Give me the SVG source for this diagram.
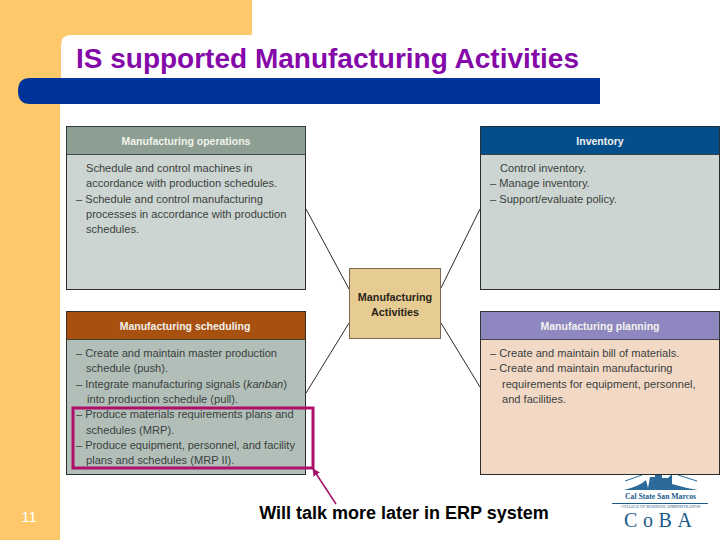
<svg xmlns="http://www.w3.org/2000/svg" width="720" height="540" viewBox="0 0 720 540">
<style>
text{font-family:"Liberation Sans",Arial,sans-serif}
.box{stroke:#2a2f2e;stroke-width:1}
.hd{stroke:#2a2f2e;stroke-width:.8}
.ht{font-size:10.5px;font-weight:bold;fill:#f2f2ec;text-anchor:middle}
.bt{font-size:11.1px;fill:#3a3f3d}
.conn{stroke:#2a2a2a;stroke-width:1;fill:none}
</style>
<defs>
<marker id="ah" viewBox="0 0 10 10" refX="9" refY="5" markerWidth="5" markerHeight="5" orient="auto-start-reverse"><path d="M0 0L10 5L0 10z" fill="#a5106a"/></marker>
</defs>
<rect width="720" height="540" fill="#fff"/>
<g id="background">
<path d="M0 0H252V35H70Q61 35 61 46V104H60V540H0z" fill="#fdc869"/>
<path d="M60 78H600V104H30Q18 104 18 91Q18 78 30 78z" fill="#003399"/>
</g>
<text x="76" y="68" font-size="28" font-weight="bold" fill="#8409a8">IS supported Manufacturing Activities</text>
<g id="connectors">
<line class="conn" x1="306" y1="209" x2="349" y2="289"/>
<line class="conn" x1="480" y1="209" x2="441" y2="288"/>
<line class="conn" x1="306" y1="393" x2="349" y2="323"/>
<line class="conn" x1="480" y1="387" x2="441" y2="323"/>
</g>
<g id="logo">
<path d="M624 490Q640 486 646 480L648 488L650 477H655V472H662V478H668L672 474V484Q685 488 698 490z" fill="#2b6a9a"/>
<path d="M625 481L642 475M678 475L697 481" stroke="#2b6a9a" stroke-width="1" fill="none"/>
<text x="660.500" y="499" font-size="7.700" font-weight="bold" fill="#1a5b8c" text-anchor="middle" style="font-family:'Liberation Serif',serif">Cal State San Marcos</text>
<line x1="612" y1="503.500" x2="708" y2="503.500" stroke="#1a5b8c"/>
<text x="660.500" y="508" font-size="4" fill="#1a5b8c" text-anchor="middle" style="font-family:'Liberation Serif',serif">COLLEGE OF BUSINESS ADMINISTRATION</text>
<text x="624" y="527" font-size="20" fill="#1a5b8c" textLength="68" lengthAdjust="spacing" style="font-family:'Liberation Serif',serif">CoBA</text>
</g>
<g id="manufacturing-operations">
<rect class="box" x="66.500" y="126.500" width="239" height="163" fill="#ccd5d1"/>
<rect class="hd" x="66.500" y="126.500" width="239" height="28" fill="#8d9f93"/>
<text class="ht" x="186" y="145">Manufacturing operations</text>
<text class="bt"><tspan x="86" y="172">Schedule and control machines in</tspan><tspan x="86" y="187.300">accordance with production schedules.</tspan><tspan x="76" y="202.600">– Schedule and control manufacturing</tspan><tspan x="86" y="218">processes in accordance with production</tspan><tspan x="86" y="233.300">schedules.</tspan></text>
</g>
<g id="inventory">
<rect class="box" x="480.500" y="126.500" width="239" height="163" fill="#ccd5d1"/>
<rect class="hd" x="480.500" y="126.500" width="239" height="28" fill="#034f8c"/>
<text class="ht" x="600" y="145">Inventory</text>
<text class="bt"><tspan x="500" y="172">Control inventory.</tspan><tspan x="490" y="187.300">– Manage inventory.</tspan><tspan x="490" y="202.600">– Support/evaluate policy.</tspan></text>
</g>
<g id="manufacturing-activities">
<rect x="349.500" y="268.500" width="91" height="70" fill="#e6cb93" stroke="#7a6a50"/>
<text class="ht" style="fill:#2a2418;font-size:10.800px" x="395" y="301">Manufacturing</text>
<text class="ht" style="fill:#2a2418;font-size:10.800px" x="395" y="316">Activities</text>
</g>
<g id="manufacturing-scheduling">
<rect class="box" x="66.500" y="311.500" width="239" height="163" fill="#b2bfb9"/>
<rect class="hd" x="66.500" y="311.500" width="239" height="28" fill="#a8500f"/>
<text class="ht" x="185" y="330">Manufacturing scheduling</text>
<text class="bt"><tspan x="76" y="357">– Create and maintain master production</tspan><tspan x="86" y="372.300">schedule (push).</tspan><tspan x="76" y="387.600">– Integrate manufacturing signals (<tspan font-style="italic">kanban</tspan>)</tspan><tspan x="87" y="403">into production schedule (pull).</tspan><tspan x="76" y="418.300">– Produce materials requirements plans and</tspan><tspan x="86" y="433.600">schedules (MRP).</tspan><tspan x="76" y="449">– Produce equipment, personnel, and facility</tspan><tspan x="86" y="464.300">plans and schedules (MRP II).</tspan></text>
</g>
<g id="manufacturing-planning">
<rect class="box" x="480.500" y="311.500" width="239" height="163" fill="#f2d9c6"/>
<rect class="hd" x="480.500" y="311.500" width="239" height="28" fill="#8f87c0"/>
<text class="ht" x="600" y="330">Manufacturing planning</text>
<text class="bt"><tspan x="490" y="357">– Create and maintain bill of materials.</tspan><tspan x="490" y="372.300">– Create and maintain manufacturing</tspan><tspan x="502" y="387.600">requirements for equipment, personnel,</tspan><tspan x="502" y="403">and facilities.</tspan></text>
</g>
<g id="callout">
<rect x="73" y="408" width="240" height="60" fill="none" stroke="#ae0f6b" stroke-width="3"/>
<line x1="336" y1="504" x2="313" y2="469" stroke="#a5106a" stroke-width="1.500" marker-end="url(#ah)"/>
<text x="404" y="519" font-size="18" font-weight="bold" fill="#000" text-anchor="middle">Will talk more later in ERP system</text>
</g>
<text x="29" y="522" font-size="15" fill="#fff" text-anchor="middle">11</text>
</svg>
